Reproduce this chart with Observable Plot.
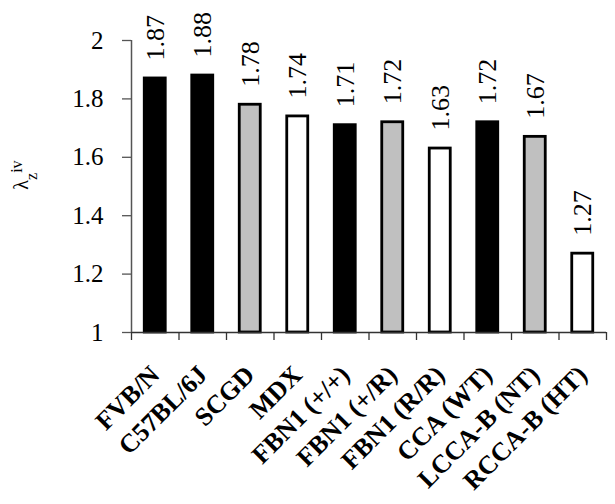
<!DOCTYPE html>
<html><head><meta charset="utf-8">
<script src="https://cdn.jsdelivr.net/npm/d3@7"></script>
<script src="https://cdn.jsdelivr.net/npm/@observablehq/plot@0.6"></script>
<style>
body{margin:0;background:#fff}
#chart{width:615px;height:504px}
g[aria-label="x-axis tick label"] text{font-weight:bold}
</style>
</head><body><div id="chart"></div>
<script>
const categories = ["FVB/N","C57BL/6J","SCGD","MDX","FBN1 (+/+)","FBN1 (+/R)","FBN1 (R/R)","CCA (WT)","LCCA-B (NT)","RCCA-B (HT)"];
const values = [1.87,1.88,1.78,1.74,1.71,1.72,1.63,1.72,1.67,1.27];
const groups = ["control","control","intermediate","disease","control","intermediate","disease","control","intermediate","disease"];
const groupNames = ["control","intermediate","disease"];
const groupColors = ["#000000","#c0c0c0","#ffffff"];
const yBase = 1;
const yTicks = [1,1.2,1.4,1.6,1.8,2];
const yTickLabels = ["1","1.2","1.4","1.6","1.8","2"];

const data = categories.map((c,i)=>({category:c, value:values[i], group:groups[i], label:values[i].toFixed(2), base:yBase}));

const W=615, H=504, mL=131, mR=9, mT=40, mB=172;
const plotH = H - mT - mB;
const step = (W - mL - mR) / categories.length;
const font = "'Liberation Serif','Times New Roman',serif";

const chart = Plot.plot({
  width: W, height: H,
  marginLeft: mL, marginRight: mR, marginTop: mT, marginBottom: mB,
  style: {fontFamily: font, color: "#000", background: "#fff", overflow: "visible"},
  x: {domain: categories, paddingInner: 0.558, paddingOuter: 0.279, round: false, axis: null},
  y: {domain: [1, 2], axis: null},
  color: {domain: groupNames, range: groupColors},
  marks: [
    Plot.barY(data, {x: "category", y1: "base", y2: "value", fill: "group", stroke: "#000", strokeWidth: 2.8}),
    Plot.text(data, {x: "category", y: "value", text: "label", rotate: -90, textAnchor: "start", lineAnchor: "middle", dy: -18, fontSize: 26, fill: "#000"}),
    Plot.ruleY([yBase], {stroke: "#333", strokeWidth: 1.3}),
    Plot.ruleX([categories[0]], {dx: -step/2, stroke: "#555", strokeWidth: 1.5}),
    Plot.ruleX(categories, {dx: -step/2, insetTop: plotH, insetBottom: -8, stroke: "#333", strokeWidth: 1.3}),
    Plot.ruleX([categories[categories.length-1]], {dx: step/2, insetTop: plotH, insetBottom: -8, stroke: "#333", strokeWidth: 1.3}),
    Plot.axisY({ticks: yTicks, tickFormat: d => yTickLabels[yTicks.indexOf(d)], tickSize: 9, tickPadding: 19, fontSize: 25, stroke: "#555", strokeWidth: 1.3, label: null}),
    Plot.axisX({tickSize: 0, tickRotate: -45, tickPadding: 38, fontSize: 26, fontWeight: "bold", label: null})
  ]
});
document.getElementById("chart").appendChild(chart);

const svg = d3.select(chart);
const t = svg.append("text")
  .attr("transform", "translate(28,175) rotate(-90)")
  .attr("font-family", font)
  .attr("font-size", 20)
  .attr("fill", "#000");
t.append("tspan").text("λ");
t.append("tspan").attr("font-size", 16).attr("dy", 9).text("z");
t.append("tspan").attr("font-size", 16).attr("dy", -15).text("iv");
</script>
</body></html>
